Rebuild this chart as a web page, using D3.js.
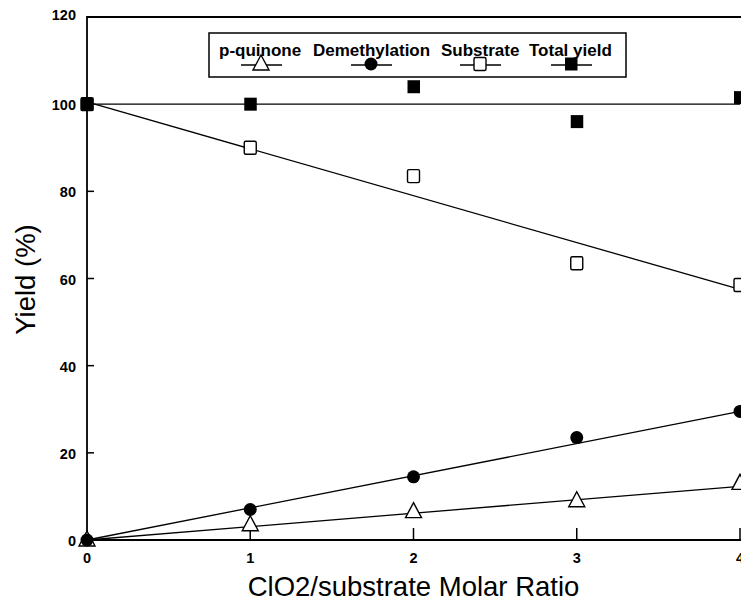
<!DOCTYPE html>
<html>
<head>
<meta charset="utf-8">
<script src="https://cdn.jsdelivr.net/npm/d3@7"></script>
<style>
  body { margin: 0; background: #fff; }
  svg { display: block; }
  .tick-label { font-family: "Liberation Sans", Arial, sans-serif; font-weight: bold; font-size: 14.5px; }
  .legend-text { font-family: "Liberation Sans", Arial, sans-serif; font-weight: bold; font-size: 17px; }
  .axis-title { font-family: "Liberation Sans", Arial, sans-serif; font-size: 27.5px; }
</style>
</head>
<body>
<svg width="741" height="602"></svg>
<script>
const ratios = [0, 1, 2, 3, 4];
const pQuinone = [0, 3.5, 6.5, 9, 13];
const demethylation = [0, 7, 14.5, 23.5, 29.5];
const substrate = [100, 90, 83.5, 63.5, 58.5];
const totalYield = [100, 100, 104, 96, 101.5];

// fitted lines (value at ratio 0 and at ratio 4)
const pQuinoneFit = [0, 12.3];
const demethylationFit = [0, 29.5];
const substrateFit = [100.5, 57.5];
const totalFit = [100, 100];

const xTicks = [0, 1, 2, 3, 4];
const yTicks = [0, 20, 40, 60, 80, 100, 120];

const svg = d3.select("svg");
const x = d3.scaleLinear().domain([0, 4]).range([87, 740]);
const y = d3.scaleLinear().domain([0, 120]).range([540, 17]);

// frame
svg.append("path")
    .attr("d", `M${x(4) + 10},${y(120)}H${x(0)}V${y(0)}H${x(4) + 10}`)
    .attr("fill", "none")
    .attr("stroke", "#000")
    .attr("stroke-width", 1.8);

// ticks (inward)
svg.append("g").selectAll("line")
    .data(xTicks.filter(d => d > 0))
    .enter().append("line")
    .attr("x1", d => x(d)).attr("x2", d => x(d))
    .attr("y1", y(0)).attr("y2", y(0) - 12)
    .attr("stroke", "#000").attr("stroke-width", 1.5);

svg.append("g").selectAll("line")
    .data(yTicks.filter(d => d > 0 && d < 120))
    .enter().append("line")
    .attr("x1", x(0)).attr("x2", x(0) + 7)
    .attr("y1", d => y(d)).attr("y2", d => y(d))
    .attr("stroke", "#000").attr("stroke-width", 1.5);

// tick labels
svg.append("g").selectAll("text")
    .data(xTicks)
    .enter().append("text")
    .attr("class", "tick-label")
    .attr("x", d => x(d))
    .attr("y", y(0) + 23)
    .attr("text-anchor", "middle")
    .text(d => d);

svg.append("g").selectAll("text")
    .data(yTicks)
    .enter().append("text")
    .attr("class", "tick-label")
    .attr("x", x(0) - 11)
    .attr("y", d => y(d) + (d === 120 ? 3 : 6))
    .attr("text-anchor", "end")
    .text(d => d);

// axis titles
svg.append("text")
    .attr("class", "axis-title")
    .attr("x", (x(0) + x(4)) / 2)
    .attr("y", 596)
    .attr("text-anchor", "middle")
    .text("ClO2/substrate Molar Ratio");

svg.append("text")
    .attr("class", "axis-title")
    .attr("transform", `translate(35,${y(60) + 1}) rotate(-90)`)
    .attr("text-anchor", "middle")
    .text("Yield (%)");

// fit lines
const fits = [pQuinoneFit, demethylationFit, substrateFit, totalFit];
svg.append("g").selectAll("line")
    .data(fits)
    .enter().append("line")
    .attr("x1", x(0)).attr("x2", x(4))
    .attr("y1", d => y(d[0])).attr("y2", d => y(d[1]))
    .attr("stroke", "#000").attr("stroke-width", 1.3);

// marker drawers
function triangle(g) {
    g.append("path").attr("d", "M0,-9L8,6H-8Z")
        .attr("fill", "#fff").attr("stroke", "#000").attr("stroke-width", 1.4);
}
function circle(g) {
    g.append("circle").attr("r", 6.5).attr("fill", "#000");
}
function openSquare(g) {
    g.append("rect").attr("x", -6).attr("y", -6.5).attr("width", 12).attr("height", 13)
        .attr("rx", 1.5)
        .attr("fill", "#fff").attr("stroke", "#000").attr("stroke-width", 1.4);
}
function filledSquare(g) {
    g.append("rect").attr("x", -6).attr("y", -6.5).attr("width", 12.5).attr("height", 13)
        .attr("fill", "#000");
}

const series = [
    { name: "p-quinone", values: pQuinone, draw: triangle },
    { name: "Demethylation", values: demethylation, draw: circle },
    { name: "Substrate", values: substrate, draw: openSquare },
    { name: "Total yield", values: totalYield, draw: filledSquare }
];

series.forEach(s => {
    svg.append("g").selectAll("g")
        .data(s.values)
        .enter().append("g")
        .attr("transform", (d, i) => `translate(${x(ratios[i])},${y(d)})`)
        .each(function () { s.draw(d3.select(this)); });
});

// legend
const legend = svg.append("g");
legend.append("rect")
    .attr("x", 209).attr("y", 33).attr("width", 417).attr("height", 44)
    .attr("fill", "#fff").attr("stroke", "#000").attr("stroke-width", 1.5);

const legendX = [219, 313, 441, 529];
const legendMarkX = [261, 371, 480, 571];
series.forEach((s, i) => {
    legend.append("text")
        .attr("class", "legend-text")
        .attr("x", legendX[i]).attr("y", 56)
        .text(s.name);
    legend.append("line")
        .attr("x1", legendMarkX[i] - 20).attr("x2", legendMarkX[i] + 21)
        .attr("y1", 65).attr("y2", 65)
        .attr("stroke", "#000").attr("stroke-width", 1.3);
    const m = legend.append("g").attr("transform", `translate(${legendMarkX[i]},64)`);
    s.draw(m);
});
</script>
</body>
</html>
